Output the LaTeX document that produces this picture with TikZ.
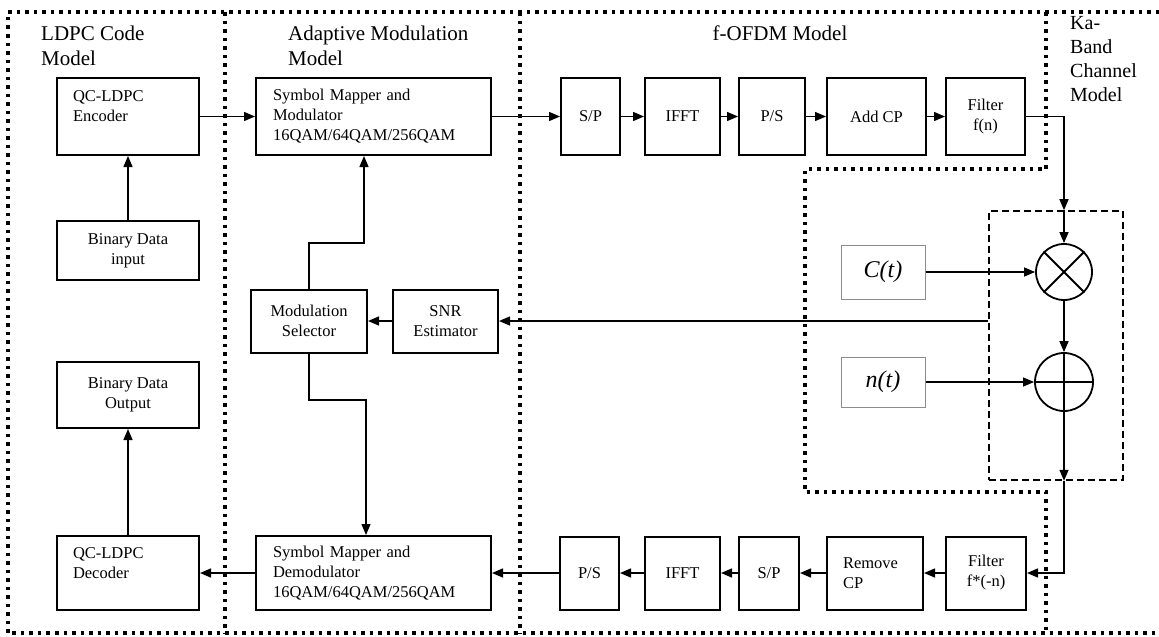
\documentclass[tikz,border=0pt]{standalone}
\usepackage{fontspec}
\setmainfont{Liberation Serif}
\usetikzlibrary{arrows.meta,positioning,calc}
\newcommand\blkfont{\fontsize{16.5}{20}\selectfont}
\newcommand\tagfont{\fontsize{21}{25}\selectfont}
\tikzset{
  box/.style={draw,line width=2pt,inner sep=0pt,align=center,font=\blkfont},
  lbox/.style={box,align=left},
  flow/.style={-{Triangle[length=11pt,width=9pt]},line width=1.4pt},
  tag/.style={font=\tagfont,align=left,inner sep=0pt},
  % model regions
  zone/.style={line width=3.5pt,dash pattern=on 3.5pt off 5pt},
  chanbox/.style={draw,line width=1.6pt,dash pattern=on 7pt off 4pt,inner sep=0pt},
  % channel parts
  src/.style={draw=black!45,line width=1pt,inner sep=0pt,font=\fontsize{24}{28}\selectfont\itshape},
  mix/.style={circle,draw,line width=1.8pt,minimum size=56pt,inner sep=0pt},
}
\begin{document}
\begin{tikzpicture}[x=1pt,y=-1pt]
  \useasboundingbox (0,0) rectangle (1159,637);
  \draw[zone] (1159,12) -- (8,12) -- (8,633) -- (1159,633);
  \draw[zone] (225,12) -- (225,633);
  \draw[zone] (520,12) -- (520,633);
  \draw[zone] (1046,12) -- (1046,169) -- (805,169) -- (805,492) -- (1046,492) -- (1046,633);
  \node[tag,anchor=west] (ldpcl) at (41,45.5) {LDPC Code\\Model};
  \node[tag,anchor=west] (adml) at (288,45.5) {Adaptive Modulation\\Model};
  \node[tag] (ofdml) at (780,33) {f-OFDM Model};
  \node[tag,anchor=west,font=\fontsize{20}{24}\selectfont] (kal) at (1070,59) {Ka-\\Band\\Channel\\Model};
  % LDPC code
  \node[lbox,text width=110pt,minimum width=142pt,minimum height=77pt] (enc) at (128,116.5) {QC-LDPC\\Encoder\\\mbox{}};
  \node[box,minimum width=142pt,minimum height=59pt] (bin) at (128,250.5) {Binary Data\\input};
  \node[box,minimum width=142pt,minimum height=66pt] (bout) at (128,395) {Binary Data\\Output};
  \node[lbox,text width=110pt,minimum width=142pt,minimum height=74pt] (dec) at (128,573) {QC-LDPC\\Decoder\\\mbox{}};
  % adaptive modulation
  \node[lbox,text width=201pt,minimum width=235pt,minimum height=77pt] (mod) at (373.5,116.5) {Symbol Mapper and\\Modulator\\16QAM/64QAM/256QAM};
  \node[lbox,text width=201pt,minimum width=235pt,minimum height=74pt] (demod) at (373.5,573) {Symbol Mapper and\\Demodulator\\16QAM/64QAM/256QAM};
  \node[box,minimum width=116pt,minimum height=63pt] (msel) at (309,321) {Modulation\\Selector};
  \node[box,minimum width=105pt,minimum height=63pt] (snr) at (445.5,321) {SNR\\Estimator};
  \coordinate (jogup) at (364,243);
  \coordinate (jogdn) at (366,400);
  % f-OFDM
  \node[box,minimum width=59pt,minimum height=77pt] (sp1) at (590.5,116.5) {S/P};
  \node[box,minimum width=75pt,minimum height=77pt] (ifft1) at (682.5,116.5) {IFFT};
  \node[box,minimum width=66pt,minimum height=77pt] (ps1) at (772,116.5) {P/S};
  \node[box,minimum width=99pt,minimum height=77pt] (addcp) at (876.5,116.5) {Add CP};
  \node[box,minimum width=79pt,minimum height=77pt] (filt1) at (985.5,116.5) {Filter\\f(n)};
  \node[box,minimum width=80pt,minimum height=73pt] (filt2) at (986,573) {Filter\\f*(-n)};
  \node[lbox,text width=64pt,minimum width=96pt,minimum height=73pt] (rmcp) at (875,573) {Remove\\CP};
  \node[box,minimum width=60pt,minimum height=73pt] (sp2) at (769,573) {S/P};
  \node[box,minimum width=75pt,minimum height=73pt] (ifft2) at (682.5,573) {IFFT};
  \node[box,minimum width=59pt,minimum height=73pt] (ps2) at (589.5,573) {P/S};
  % Ka-band channel
  \node[chanbox,minimum width=134pt,minimum height=269pt] (chan) at (1056,345.5) {};
  \node[mix] (mult) at (1064,272) {};
  \node[mix,minimum size=58pt] (add) at (1064,382) {};
  \node[src,minimum width=84pt,minimum height=54pt] (ct) at (883,272) {C(t)};
  \node[src,minimum width=84pt,minimum height=50pt] (nt) at (883,382) {n(t)};
  \draw[line width=1.8pt] (mult.north west) -- (mult.south east) (mult.north east) -- (mult.south west);
  \draw[line width=1.8pt] (add.north) -- (add.south) (add.west) -- (add.east);
  \foreach \a/\b in {bin/enc,dec/bout,enc/mod,mod/sp1,sp1/ifft1,ifft1/ps1,ps1/addcp,addcp/filt1,
    filt2/rmcp,rmcp/sp2,sp2/ifft2,ifft2/ps2,ps2/demod,demod/dec,snr/msel,ct/mult,nt/add,mult/add}
    \draw[flow] (\a) -- (\b);
  \draw[flow] (filt1.east) -| (mult.north |- chan.north);
  \draw[flow] (mult.north |- chan.north) -- (mult.north);
  \draw[flow] (add.south) -- (add.south |- chan.south);
  \draw[flow] (add.south |- chan.south) |- (filt2.east);
  \draw[flow] (chan.west |- snr) -- (snr.east);
  \draw[flow] (msel.north) |- (jogup) -- (jogup |- mod.south);
  \draw[flow] (msel.south) |- (jogdn) -- (jogdn |- demod.north);
\end{tikzpicture}
\end{document}
